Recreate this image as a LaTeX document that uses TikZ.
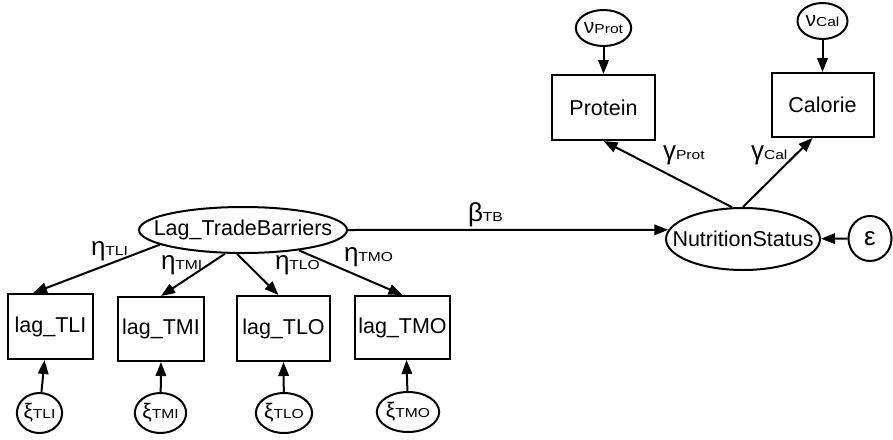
\documentclass[tikz,border=0pt]{standalone}
\usepackage{fontspec}
\setmainfont{Liberation Sans}
\usetikzlibrary{shapes.geometric,arrows.meta}
\newcommand\sbs[1]{{\fontsize{13}{13}\selectfont\scalebox{1.2}[1]{#1}}}
\newcommand\grk[1]{{\fontsize{26}{26}\selectfont #1}}
\newcommand\grs[1]{{\fontsize{21}{21}\selectfont #1}}
\begin{document}
\begin{tikzpicture}[x=1pt,y=-1pt,line width=2pt,
  every node/.style={font=\fontsize{21.5}{24}\selectfont},
  obs/.style={draw,rectangle,inner sep=0pt,line width=2pt},
  lat/.style={draw,ellipse,inner sep=0pt,line width=2pt},
  err/.style={draw,ellipse,inner sep=0pt,line width=2pt},
  arr/.style={-{Triangle[length=14pt,width=10.5pt]},line width=2pt},
  lbl/.style={anchor=base west,inner sep=0pt}]
\useasboundingbox (0,0) rectangle (893,439);
% latent variables
\node[lat,minimum width=208pt,minimum height=46pt,label={center:Lag\_TradeBarriers}] (LTB) at (243,230) {};
\node[lat,minimum width=154pt,minimum height=62pt,label={center:NutritionStatus}] (NS) at (743,239) {};
% observed variables
\node[obs,minimum width=85pt,minimum height=65pt] (TLI) at (50.5,326.5) {lag\_TLI};
\node[obs,minimum width=86pt,minimum height=64pt] (TMI) at (161,329) {lag\_TMI};
\node[obs,minimum width=93pt,minimum height=65pt] (TLO) at (283.5,328.5) {lag\_TLO};
\node[obs,minimum width=95pt,minimum height=63pt] (TMO) at (402.5,327.5) {lag\_TMO};
\node[obs,minimum width=103pt,minimum height=65pt] (Prot) at (603.5,107.5) {Protein};
\node[obs,minimum width=102pt,minimum height=64pt] (Cal) at (822.5,105) {Calorie};
% error terms
\node[err,minimum width=43pt,minimum height=40pt] (xTLI) at (39.5,413) {\grs{ξ}\sbs{TLI}};
\node[err,minimum width=43pt,minimum height=40pt] (xTMI) at (160.5,413) {\grs{ξ}\sbs{TMI}};
\node[err,minimum width=43pt,minimum height=40pt] (xTLO) at (284,413) {\grs{ξ}\sbs{TLO}};
\node[err,minimum width=43pt,minimum height=40pt] (xTMO) at (408,412) {\grs{ξ}\sbs{TMO}};
\node[err,minimum width=49pt,minimum height=36pt] (vP) at (603.5,28) {\grs{ν}\sbs{Prot}};
\node[err,minimum width=50pt,minimum height=36pt] (vC) at (822.5,21) {\grs{ν}\sbs{Cal}};
\node[err,minimum width=43pt,minimum height=45pt] (eps) at (870,238.5) {\grk{ε}};
% paths
\draw[arr] (LTB.190) -- ([xshift=-17.5pt]TLI.north);
\draw[arr] (LTB.233) -- (TMI.north);
\draw[arr] (LTB.256) -- ([xshift=-5pt]TLO.north);
\draw[arr] (LTB.340) -- (TMO.north);
\draw[arr] (LTB.east) -- (NS.173);
\draw[arr] (NS.109) -- (Prot.south);
\draw[arr] (NS.north) -- ([xshift=-10pt]Cal.south);
\draw[arr] (eps) -- (NS);
\draw[arr] (vP) -- (Prot);
\draw[arr] (vC) -- (Cal);
\draw[arr] (xTLI) -- ([xshift=-6pt]TLI.south);
\draw[arr] (xTMI) -- (TMI.south);
\draw[arr] (xTLO) -- (TLO.south);
\draw[arr] (xTMO) -- ([xshift=4pt]TMO.south);
% coefficient labels
\node[lbl] (lTLI) at (90,255) {\grk{η}\sbs{TLI}};
\node[lbl] (lTMI) at (160,269) {\grk{η}\sbs{TMI}};
\node[lbl] (lTLO) at (274,269) {\grk{η}\sbs{TLO}};
\node[lbl] (lTMO) at (343,261) {\grk{η}\sbs{TMO}};
\node[lbl] (lTB) at (467,221) {\grk{β}\sbs{TB}};
\node[lbl] (lP) at (662,159) {\grk{γ}\sbs{Prot}};
\node[lbl] (lC) at (750,159) {\grk{γ}\sbs{Cal}};
\end{tikzpicture}
\end{document}
